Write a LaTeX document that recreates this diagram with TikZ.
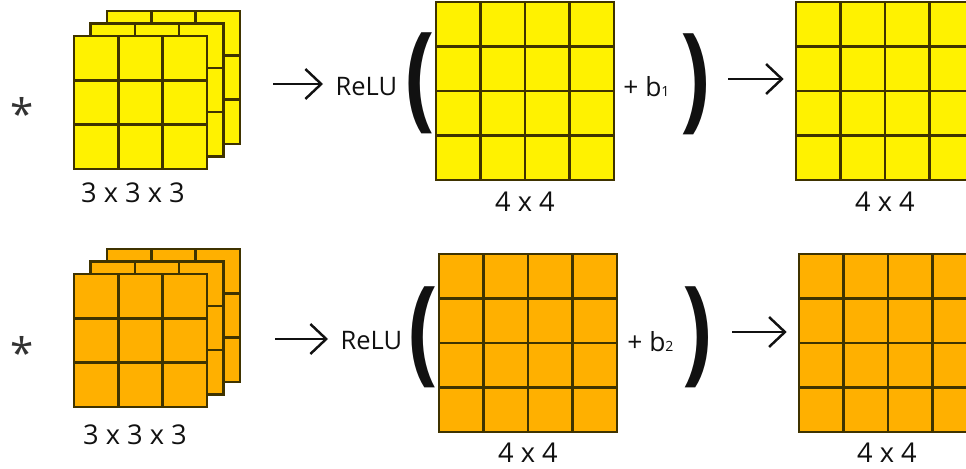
\documentclass[tikz,border=0pt]{standalone}
\usepackage{fontspec}
\setmainfont{Open Sans}
\usepackage{tikz}
\definecolor{convYellow}{HTML}{FFF200}
\definecolor{convOrange}{HTML}{FFB000}
\definecolor{convLine}{HTML}{3F3300}
\definecolor{convInk}{HTML}{111111}
\definecolor{convStar}{HTML}{333333}
\usetikzlibrary{arrows.meta}
\newcommand{\narrowparen}[1]{\scalebox{0.75}[1]{#1}}

\begin{document}
\begin{tikzpicture}[x=0.02cm,y=-0.02cm, every node/.style={inner sep=0pt, text=convInk},
  cell/.style={draw=convLine, line width=1.5pt},
  flow/.style={-{Straight Barb[length=9pt, width=17pt]}, line width=1.4pt, color=convInk},
  dimlabel/.style={font=\fontsize{15.5}{15.5}\selectfont},
  relulabel/.style={font=\fontsize{14.5}{14.5}\selectfont, anchor=west},
  biaslabel/.style={font=\fontsize{15}{15}\selectfont, anchor=base west},
  paren/.style={font=\fontsize{66}{66}\selectfont\bfseries},
  conv/.style={font=\fontsize{24}{24}\selectfont, text=convStar, anchor=base}]
  \clip (0,0) rectangle (966,469);
  % filter stacks, back layer first
  \foreach \top/\fillc in {36/convYellow,274/convOrange} {
    \foreach \k in {2,1,0}
      \foreach \i in {0,1,2}
        \foreach \j in {0,1,2}
          \draw[cell, fill=\fillc] ({74+16.5*\k+44.33*\i},{\top-12.5*\k+44.33*\j}) rectangle ++(44.33,44.33);
  }
  % feature maps 4x4
  \foreach \gx/\gy/\fillc in {436/2/convYellow,796/2/convYellow,439/254/convOrange,799/254/convOrange} {
    \foreach \i in {0,...,3}
      \foreach \j in {0,...,3}
        \draw[cell, fill=\fillc] ({\gx+44.5*\i},{\gy+44.5*\j}) rectangle ++(44.5,44.5);
  }
  \coordinate (mapA) at (436,2);
  \coordinate (outA) at (796,2);
  \coordinate (mapB) at (439,254);
  \coordinate (outB) at (799,254);

  % top row
  \node[conv] (starA) at (22,130) {*};
  \node[dimlabel] (filtA) at (133,193) {3 x 3 x 3};
  \node[relulabel, inner xsep=7pt] (reluA) at (323,87) {ReLU};
  \node[paren] (openA) at (420.5,83.5) {\narrowparen{(}};
  \node[dimlabel] (dimA) at (525,202) {4 x 4};
  \node[biaslabel] (biasA) at (623,97) {+ b{\fontsize{8}{8}\selectfont 1}};
  \node[paren] (closeA) at (695.5,84) {\narrowparen{)}};
  \node[dimlabel] (dimOutA) at (885,202) {4 x 4};
  \draw[flow] (273,84) coordinate (inA) -- (inA -| reluA.west);
  \draw[flow, shorten >=7pt] (728,79) coordinate (fromA) -- (fromA -| outA);

  % bottom row
  \node[conv] (starB) at (22,368) {*};
  \node[dimlabel] (filtB) at (135,435) {3 x 3 x 3};
  \node[relulabel, inner xsep=7pt] (reluB) at (328,341) {ReLU};
  \node[paren] (openB) at (423.5,337) {\narrowparen{(}};
  \node[dimlabel] (dimB) at (528,453) {4 x 4};
  \node[biaslabel] (biasB) at (627,351) {+ b{\fontsize{8}{8}\selectfont 2}};
  \node[paren] (closeB) at (697.5,337) {\narrowparen{)}};
  \node[dimlabel] (dimOutB) at (887,453) {4 x 4};
  \draw[flow] (275,339) coordinate (inB) -- (inB -| reluB.west);
  \draw[flow, shorten >=7pt] (732,332) coordinate (fromB) -- (fromB -| outB);
\end{tikzpicture}
\end{document}
